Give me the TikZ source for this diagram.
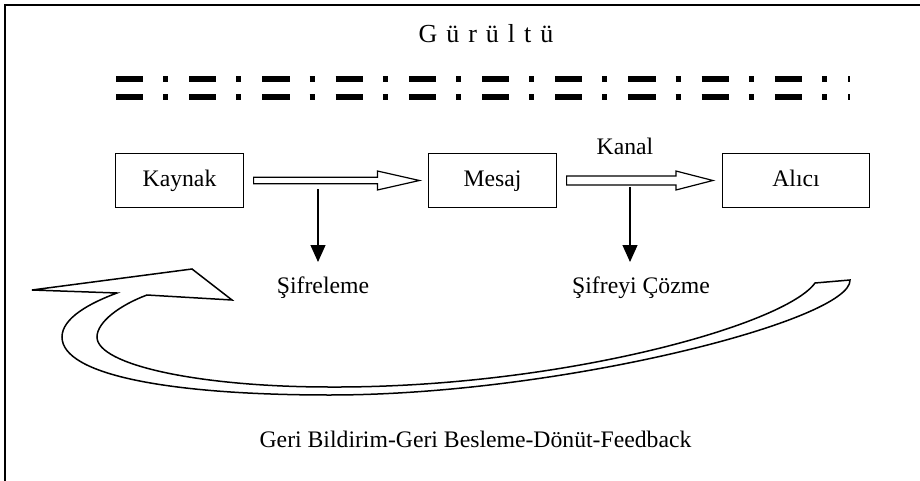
\documentclass[tikz,border=0pt]{standalone}
\usepackage{fontspec}
\setmainfont{Liberation Serif}
\usetikzlibrary{arrows.meta,calc}
\begin{document}
\begin{tikzpicture}[x=1pt,y=-1pt,
  box/.style={draw,line width=1.2pt,minimum height=54pt,inner sep=0pt,
    text height=16pt,text depth=5pt,font=\fontsize{23.7}{28}\selectfont},
  lbl/.style={inner sep=0pt,anchor=base,font=\fontsize{23.7}{28}\selectfont},
  blk/.style={draw,line width=1.2pt,fill=white,line join=miter},
  downarr/.style={draw,line width=1.2pt,-{Triangle[length=17pt,width=15pt]}},
  noise/.style={line width=6pt,dash pattern=on 27.2pt off 20pt on 5pt off 21pt},
  fb/.style={draw,line width=1.5pt,fill=white,line join=miter},
  framel/.style={line width=2pt}]
\useasboundingbox (0,0) rectangle (920,481);
\draw[framel] (5,481) -- (5,5) -- (920,5);

% title and noise
\node[lbl,font=\fontsize{26}{30}\selectfont] (gurultu) at (486,43) {\spaceskip=9pt G ü r ü l t ü};
\draw[noise] (116,79) -- (849.5,79);
\draw[noise] (116,97) -- (849.5,97);

% boxes
\node[box,minimum width=128pt] (kaynak) at (179.5,180.5) {Kaynak};
\node[box,minimum width=128pt] (mesaj) at (492.5,180.5) {Mesaj};
\node[box,minimum width=147pt] (alici) at (796,180.5) {Alıcı};

% block arrows
\coordinate (a1s) at ($(kaynak.east)+(9.5,0)$);
\coordinate (a1e) at ($(mesaj.west)+(-8.5,0)$);
\draw[blk] ($(a1s)+(0,-3.3)$) -- ($(a1e)+(-42,-3.3)$) -- ($(a1e)+(-42,-9.5)$) -- (a1e)
  -- ($(a1e)+(-42,9.5)$) -- ($(a1e)+(-42,3.3)$) -- ($(a1s)+(0,3.3)$) -- cycle;
\coordinate (a2s) at ($(mesaj.east)+(9.5,0)$);
\coordinate (a2e) at ($(alici.west)+(-9,0)$);
\draw[blk] ($(a2s)+(0,-4.5)$) -- ($(a2e)+(-37,-4.5)$) -- ($(a2e)+(-37,-9.5)$) -- (a2e)
  -- ($(a2e)+(-37,9.5)$) -- ($(a2e)+(-37,4.5)$) -- ($(a2s)+(0,4.5)$) -- cycle;

\node[lbl] (kanal) at (625,155) {Kanal};

% labels and down arrows
\node[lbl] (sifre) at (323,293) {Şifreleme};
\node[lbl] (cozme) at (641,293) {Şifreyi Çözme};
\coordinate (v1t) at (318,189);
\coordinate (v1b) at (318,262);
\coordinate (v2t) at (630,187);
\coordinate (v2b) at (630,262);
\draw[downarr] (v1t) -- (v1b);
\draw[downarr] (v2t) -- (v2b);

% feedback arrow
\draw[fb] (32,290) -- (192,269) -- (232,300) -- (147,295)
  .. controls (120,305) and (97,322) .. (97,337)
  .. controls (97,365) and (200,387) .. (330,387)
  .. controls (560,388) and (785,325) .. (815,283)
  -- (850,280)
  .. controls (852,320) and (560,395) .. (330,395)
  .. controls (170,395) and (62,375) .. (62,337)
  .. controls (62,318) and (90,303) .. (117,293)
  -- cycle;

\node[lbl] (feedback) at (475.5,447) {Geri Bildirim-Geri Besleme-Dönüt-Feedback};
\end{tikzpicture}
\end{document}
